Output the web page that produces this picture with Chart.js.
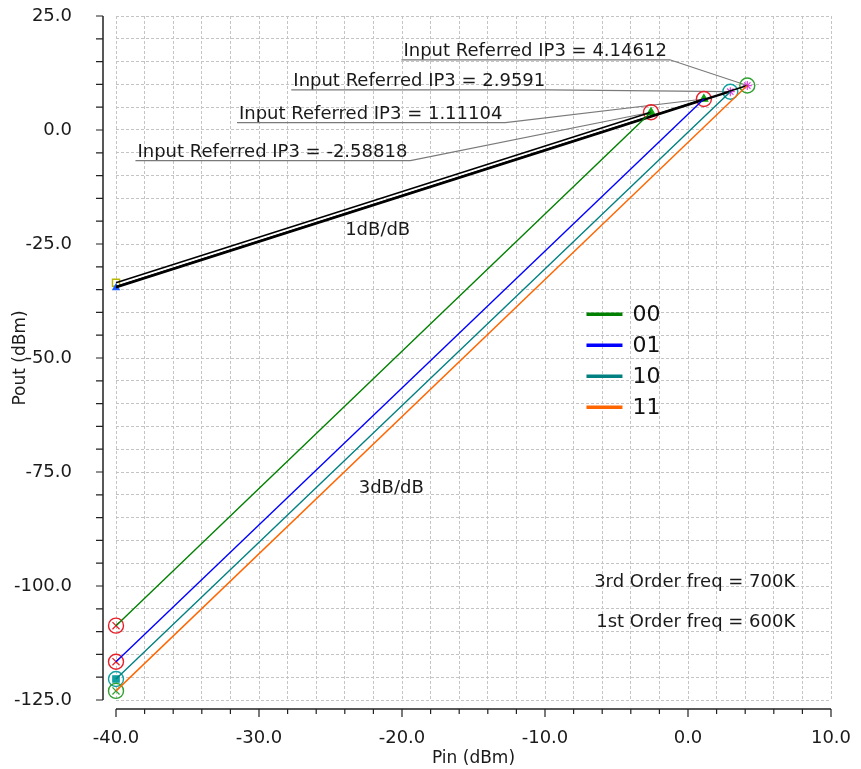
<!DOCTYPE html>
<html>
<head>
<meta charset="utf-8">
<script src="https://cdn.jsdelivr.net/npm/chart.js@4/dist/chart.umd.min.js"></script>
<style>
  body { margin: 0; background: #fff; }
  #wrap { width: 861px; height: 769px; }
</style>
</head>
<body>
<div id="wrap"><canvas id="ip3Chart" width="861" height="769"></canvas></div>
<script>
// IP3 plot data
const pinStart = -40;
const codes = ["00", "01", "10", "11"];
const iip3 = [-2.58818, 1.11104, 2.9591, 4.14612];
const oip3 = [3.9, 6.8, 8.4, 9.75];
const fundAtStart = [-33.5, -34.3, -34.6, -34.4];
const im3AtStart = [-108.7, -116.6, -120.4, -123.0];
const xTickLabels = [-40, -30, -20, -10, 0, 10];
const yTickLabels = [25, 0, -25, -50, -75, -100, -125];

const colors = ["#008000", "#0000ff", "#008080", "#ff6600"];
const ringColors = ["#e8202a", "#e8202a", "#10a0a0", "#30a030"];
const FONT = "'DejaVu Sans', sans-serif";

const datasets = [];

// 3rd order lines
codes.forEach((c, i) => {
  datasets.push({
    label: c,
    data: [{ x: pinStart, y: im3AtStart[i] }, { x: iip3[i], y: oip3[i] }],
    borderColor: colors[i],
    borderWidth: 1.4,
    pointRadius: 0
  });
});

// 1st order lines
codes.forEach((c, i) => {
  datasets.push({
    label: "fund " + c,
    data: [{ x: pinStart, y: fundAtStart[i] }, { x: iip3[i], y: oip3[i] }],
    borderColor: "#000",
    borderWidth: 1.6,
    pointRadius: 0
  });
});

// marker rings at both ends of the 3rd order lines
datasets.push({
  label: "rings",
  data: codes.map((c, i) => ({ x: pinStart, y: im3AtStart[i] }))
    .concat(codes.map((c, i) => ({ x: iip3[i], y: oip3[i] }))),
  showLine: false,
  pointStyle: "circle",
  pointRadius: 7.5,
  pointBorderWidth: 1.4,
  pointBackgroundColor: "rgba(0,0,0,0)",
  pointBorderColor: ringColors.concat(ringColors)
});

// inner markers at Pin = -40
datasets.push({
  label: "inner start",
  data: codes.map((c, i) => ({ x: pinStart, y: im3AtStart[i] })),
  showLine: false,
  pointStyle: ["crossRot", "crossRot", "rect", "crossRot"],
  pointRadius: [5, 5, 4.5, 5],
  pointBorderWidth: 1.3,
  pointBackgroundColor: ["#e8202a", "#e8202a", "#10a0a0", "#30a030"],
  pointBorderColor: ["#e8202a", "#e8202a", "#10a0a0", "#30a030"]
});

// inner markers at the IP3 points
datasets.push({
  label: "inner ip3",
  data: codes.map((c, i) => ({ x: iip3[i], y: oip3[i] })),
  showLine: false,
  pointStyle: ["triangle", "triangle", "star", "star"],
  pointRadius: [4.5, 4.5, 4.5, 4.5],
  pointBorderWidth: 1.2,
  pointBackgroundColor: ["#10a010", "#10a010", "#e040e0", "#e040e0"],
  pointBorderColor: ["#10a010", "#10a010", "#e040e0", "#e040e0"]
});

// markers on the 1st order start
datasets.push({
  label: "fund start",
  data: [{ x: pinStart, y: fundAtStart[0] }, { x: pinStart, y: fundAtStart[2] }],
  showLine: false,
  pointStyle: ["rect", "triangle"],
  pointRadius: [5, 3.5],
  pointBorderWidth: 1.4,
  pointBackgroundColor: ["rgba(0,0,0,0)", "#2060ff"],
  pointBorderColor: ["#b8b800", "#2060ff"]
});

datasets.forEach((d) => { d.clip = false; });

// text notes, underlined, with a leader to each IP3 point
const notesPlugin = {
  id: "notes",
  beforeDatasetsDraw(chart) {
    const { ctx, scales: { x, y } } = chart;
    const noteX = [-38.5, -31.4, -27.6, -19.9];
    const noteY = [-6.7, 1.6, 8.8, 15.4];
    ctx.save();
    ctx.font = "18px " + FONT;
    codes.forEach((c, i) => {
      const txt = "Input Referred IP3 = " + iip3[i];
      const px = x.getPixelForValue(noteX[i]);
      const py = y.getPixelForValue(noteY[i]);
      const w = ctx.measureText(txt).width;
      ctx.fillStyle = "#1a1a1a";
      ctx.textBaseline = "alphabetic";
      ctx.textAlign = "left";
      ctx.fillText(txt, px, py - 4);
      ctx.strokeStyle = "#7a7a7a";
      ctx.lineWidth = 1.2;
      ctx.beginPath();
      ctx.moveTo(px - 2, py);
      ctx.lineTo(px + w + 3, py);
      ctx.lineTo(x.getPixelForValue(iip3[i]), y.getPixelForValue(oip3[i]));
      ctx.stroke();
    });

    ctx.fillStyle = "#1a1a1a";
    ctx.textBaseline = "middle";
    ctx.textAlign = "center";
    ctx.fillText("1dB/dB", x.getPixelForValue(-21.7), y.getPixelForValue(-22.0));
    ctx.fillText("3dB/dB", x.getPixelForValue(-20.75), y.getPixelForValue(-78.6));
    ctx.textAlign = "right";
    ctx.fillText("3rd Order freq = 700K", x.getPixelForValue(7.5), y.getPixelForValue(-99.3));
    ctx.fillText("1st Order freq = 600K", x.getPixelForValue(7.5), y.getPixelForValue(-107.9));
    ctx.restore();
  }
};

// legend drawn inside the plot
const legendPlugin = {
  id: "plotLegend",
  afterDatasetsDraw(chart) {
    const { ctx, scales: { x, y } } = chart;
    const lx = x.getPixelForValue(-7.1);
    let ly = y.getPixelForValue(-40.4);
    ctx.save();
    ctx.font = "22px " + FONT;
    ctx.textBaseline = "middle";
    ctx.textAlign = "left";
    codes.forEach((c, i) => {
      ctx.strokeStyle = colors[i];
      ctx.lineWidth = 3.5;
      ctx.beginPath();
      ctx.moveTo(lx, ly);
      ctx.lineTo(lx + 36, ly);
      ctx.stroke();
      ctx.fillStyle = "#111";
      ctx.fillText(c, lx + 46, ly + 1);
      ly += 31;
    });
    ctx.restore();
  }
};

// axis lines, offset from the plot area, with major/minor ticks
const axesPlugin = {
  id: "offsetAxes",
  afterDraw(chart) {
    const { ctx, chartArea: a, scales: { x, y } } = chart;
    const axX = a.left - 13;
    const axY = a.bottom + 9;
    ctx.save();
    ctx.strokeStyle = "#222";
    ctx.lineWidth = 1.5;
    ctx.beginPath();
    ctx.moveTo(axX, a.top);
    ctx.lineTo(axX, a.bottom);
    ctx.moveTo(a.left, axY);
    ctx.lineTo(a.right, axY);
    ctx.stroke();
    ctx.lineWidth = 1.2;
    ctx.beginPath();
    for (let v = -125; v <= 25; v += 5) {
      const py = y.getPixelForValue(v);
      ctx.moveTo(axX, py);
      ctx.lineTo(axX - 7, py);
    }
    for (let v = -40; v <= 10; v += 2) {
      const px = x.getPixelForValue(v);
      ctx.moveTo(px, axY);
      ctx.lineTo(px, axY + (v % 10 === 0 ? 8 : 5));
    }
    ctx.stroke();
    ctx.restore();
  }
};

new Chart(document.getElementById("ip3Chart"), {
  type: "line",
  data: { datasets },
  plugins: [notesPlugin, legendPlugin, axesPlugin],
  options: {
    responsive: false,
    devicePixelRatio: 1,
    animation: false,
    layout: { padding: { top: 16, right: 30, left: 0, bottom: 0 } },
    plugins: { legend: { display: false }, tooltip: { enabled: false } },
    scales: {
      x: {
        type: "linear",
        min: -40,
        max: 10,
        afterFit: (s) => { s.height = 69; s.paddingLeft = 0; s.paddingRight = 0; },
        border: { display: false, dash: [3, 2] },
        grid: { color: "#c4c4c4", lineWidth: 1, drawTicks: false },
        ticks: {
          stepSize: 2,
          autoSkip: false,
          maxTicksLimit: 100,
          maxRotation: 0,
          padding: 28,
          color: "#1a1a1a",
          font: { family: FONT, size: 18 },
          callback: (v) => xTickLabels.includes(v) ? v.toFixed(1) : ""
        },
        title: {
          display: true,
          text: "Pin (dBm)",
          color: "#1a1a1a",
          font: { family: FONT, size: 17 },
          padding: { top: 0, bottom: 0 }
        }
      },
      y: {
        min: -125,
        max: 25,
        afterFit: (s) => { s.width = 116; s.paddingTop = 0; s.paddingBottom = 0; },
        border: { display: false, dash: [3, 2] },
        grid: { color: "#c4c4c4", lineWidth: 1, drawTicks: false },
        ticks: {
          stepSize: 5,
          autoSkip: false,
          maxTicksLimit: 100,
          padding: 44,
          color: "#1a1a1a",
          font: { family: FONT, size: 18 },
          callback: (v) => yTickLabels.includes(v) ? v.toFixed(1) : ""
        },
        title: {
          display: true,
          text: "Pout (dBm)",
          color: "#1a1a1a",
          font: { family: FONT, size: 17 },
          padding: { top: 10, bottom: 0 }
        }
      }
    }
  }
});
</script>
</body>
</html>
